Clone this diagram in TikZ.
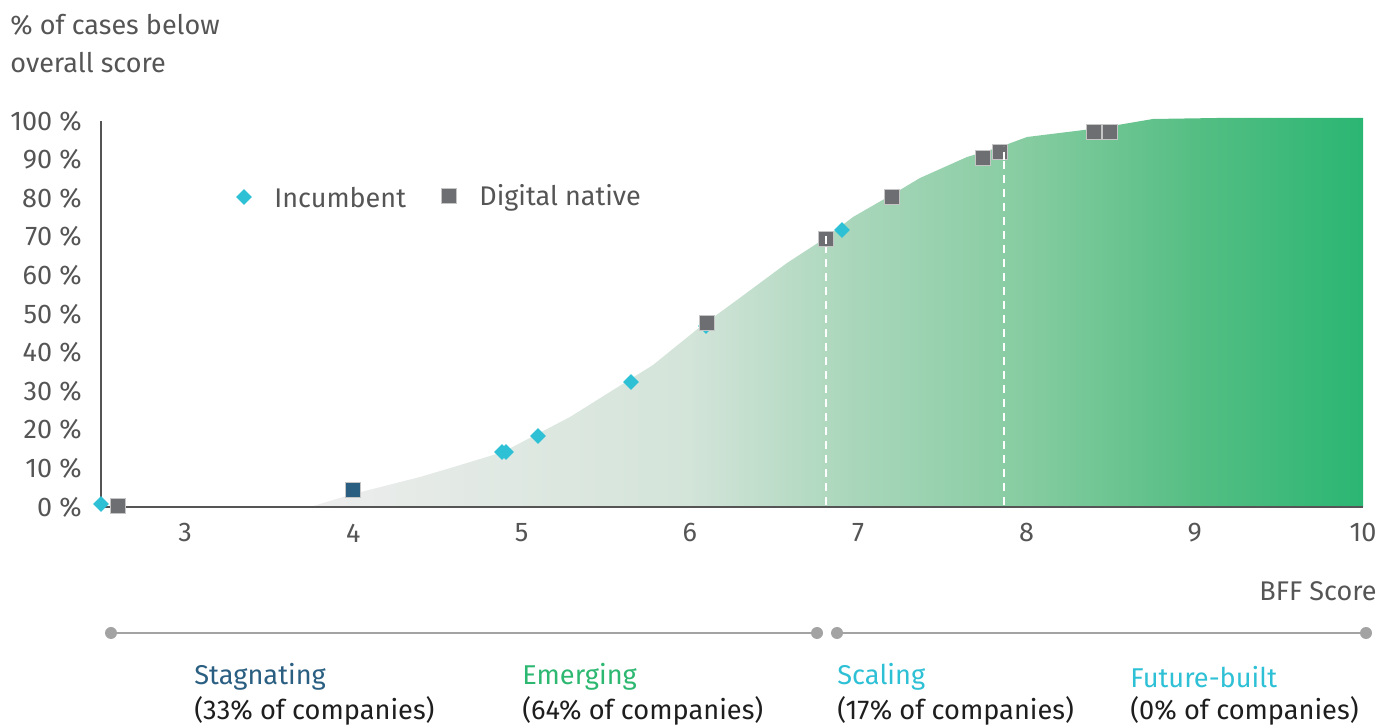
\documentclass[tikz,border=0pt]{standalone}
\usepackage{fontspec}
\setmainfont{Fira Sans}
\usetikzlibrary{shapes.geometric}
\definecolor{axisgrey}{HTML}{555555}
\definecolor{markgrey}{HTML}{6D6E71}
\definecolor{incyan}{HTML}{2EC0D5}
\definecolor{stagblue}{HTML}{2B5F82}
\definecolor{emgreen}{HTML}{2DB871}
\definecolor{lingrey}{HTML}{A3A3A3}
\definecolor{txtdark}{HTML}{1E1E1E}
\definecolor{shA}{HTML}{EDEDED}
\definecolor{shB}{HTML}{D3E4D9}
\definecolor{shC}{HTML}{A8D6BA}
\definecolor{shD}{HTML}{86CCA1}
\definecolor{shE}{HTML}{55BE83}
\definecolor{shF}{HTML}{2BB673}
\pgfdeclarehorizontalshading{areashade}{100bp}{
  color(0bp)=(shA);
  color(25bp)=(shA);
  color(43bp)=(shB);
  color(51bp)=(shC);
  color(59bp)=(shD);
  color(67bp)=(shE);
  color(75bp)=(shF);
  color(100bp)=(shF)}
\tikzset{
  lbl/.style={font=\fontsize{13.5}{15}\selectfont, text=axisgrey, inner sep=0pt},
  ylbl/.style={lbl, anchor=east},
  xlbl/.style={lbl, anchor=center},
  catname/.style={font=\fontsize{13.6}{15}\selectfont, inner sep=0pt, anchor=west},
  catsub/.style={font=\fontsize{13.6}{15}\selectfont, text=txtdark, inner sep=0pt, anchor=west},
  inc/.style={diamond, fill=incyan, inner sep=0pt, minimum width=8pt, minimum height=8pt},
  dig/.style={rectangle, fill=markgrey, draw=white!60!markgrey, line width=0.3pt, inner sep=0pt, minimum size=7.5pt},
  dot/.style={circle, fill=lingrey, inner sep=0pt, minimum size=6pt},
  seg/.style={draw=lingrey, line width=1pt},
  ax/.style={draw=axisgrey, line width=1pt},
  cut/.style={draw=white, line width=0.8pt, dash pattern=on 4pt off 3pt}
}
\begin{document}
\begin{tikzpicture}[x=0.5pt, y=-0.5pt]
\useasboundingbox (0,0) rectangle (1394,726);
% area
\shade[shading=areashade] (310,507) -- (353,494) -- (420,477) -- (457,466) -- (503,452)
  -- (570,417) -- (653,365) -- (700,327) -- (737,300) -- (787,263) -- (827,237)
  -- (853,217) -- (900,190) -- (920,178) -- (967,157) -- (1000,147) -- (1027,137)
  -- (1100,128) -- (1153,119) -- (1217,118) -- (1363,118) -- (1363,507) -- cycle;
% dashed cut lines
\coordinate (c1b) at (826,505); \coordinate (c1t) at (826,240);
\coordinate (c2b) at (1004,505); \coordinate (c2t) at (1004,148);
\draw[cut] (c1b) -- (c1t);
\draw[cut] (c2b) -- (c2t);
% axes
\coordinate (o) at (101,507); \coordinate (ytop) at (101,121); \coordinate (xend) at (1363,507);
\draw[ax] (ytop) -- (o) -- (xend);
% y labels
\foreach \v [count=\i from 0] in {0,10,...,100}
  \node[ylbl] (y\i) at (82,{507-3.86*\v}) {\v\ \%};
% x labels
\foreach \v in {3,...,10}
  \node[xlbl] (x\v) at ({185+168.3*(\v-3)},533) {\v};
\node[lbl, anchor=east] (bff) at (1377,591) {BFF Score};
\node[lbl, anchor=west] (t1) at (10,25) {\% of cases below};
\node[lbl, anchor=west] (t2) at (10,63) {overall score};
% legend
\node[inc] (leginc) at (244,197) {};
\node[lbl, anchor=west] (leginct) at (274,198) {Incumbent};
\node[dig] (legdig) at (449,196) {};
\node[lbl, anchor=west] (legdigt) at (479,198) {Digital native};
% incumbent markers
\node[inc] (i1) at (101,504) {};
\node[inc] (i2) at (502,452) {};
\node[inc] (i3) at (506,452) {};
\node[inc] (i4) at (538,436) {};
\node[inc] (i5) at (631,382) {};
\node[inc] (i6) at (706,326) {};
\node[inc] (i7) at (842,230) {};
% digital native markers
\node[dig] (d1) at (118,506) {};
\node[dig, fill=stagblue] (d2) at (353,490) {};
\node[dig] (d3) at (707,323) {};
\node[dig] (d4) at (826,239) {};
\node[dig] (d5) at (892,197) {};
\node[dig] (d6) at (983,158) {};
\node[dig] (d7) at (1000,152) {};
\node[dig] (d8) at (1094,132) {};
\node[dig] (d9) at (1110,132) {};
\draw[cut] (826,244) -- (826,234);
\draw[cut] (1004,160) -- (1004,146);
% category bar
\node[dot] (p1) at (111,633) {};
\node[dot] (p2) at (817,633) {};
\node[dot] (p3) at (837,633) {};
\node[dot] (p4) at (1366,633) {};
\draw[seg] (p1) -- (p2);
\draw[seg] (p3) -- (p4);
% category labels
\node[catname, text=stagblue] (s1) at (194,677) {Stagnating};
\node[catsub] (s2) at (194,711) {(33\% of companies)};
\node[catname, text=emgreen] (e1) at (522,677) {Emerging};
\node[catsub] (e2) at (522,711) {(64\% of companies)};
\node[catname, text=incyan] (sc1) at (837,677) {Scaling};
\node[catsub] (sc2) at (837,711) {(17\% of companies)};
\node[catname, text=incyan] (f1) at (1130,677) {Future-built};
\node[catsub] (f2) at (1130,711) {(0\% of companies)};
\end{tikzpicture}
\end{document}
